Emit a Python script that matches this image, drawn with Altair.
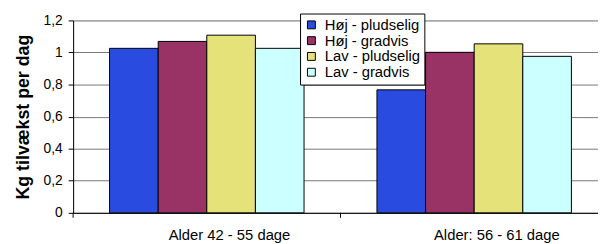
import altair as alt
import pandas as pd

categories = ["Alder 42 - 55 dage", "Alder: 56 - 61 dage"]
series = ["Høj - pludselig", "Høj - gradvis", "Lav - pludselig", "Lav - gradvis"]
values = {
    "Høj - pludselig": [1.026, 0.767],
    "Høj - gradvis": [1.069, 1.001],
    "Lav - pludselig": [1.108, 1.054],
    "Lav - gradvis": [1.026, 0.976],
}
colors = ["#2a4be0", "#993366", "#e6e27a", "#ccffff"]
y_ticks = [0, 0.2, 0.4, 0.6, 0.8, 1.0, 1.2]

rows = []
for s in series:
    for c, v in zip(categories, values[s]):
        rows.append({"cat": c, "serie": s, "val": v})
df = pd.DataFrame(rows)
cat_df = pd.DataFrame({"cat": categories})

FONT = "Liberation Sans"

bars = alt.Chart(df).mark_bar(stroke="black", strokeWidth=1).encode(
    x=alt.X("cat:N", sort=categories,
            scale=alt.Scale(range=[0, 542], paddingInner=0, paddingOuter=0),
            axis=alt.Axis(title=None, labelAngle=0, ticks=False, domain=True,
                          domainColor="black", labelFontSize=15, labelFont=FONT,
                          labelColor="black", labelPadding=15, labelOffset=23)),
    xOffset=alt.XOffset("serie:N", sort=series,
                        scale=alt.Scale(paddingOuter=0.75, paddingInner=0)),
    y=alt.Y("val:Q", scale=alt.Scale(domain=[0, 1.2], nice=False),
            axis=alt.Axis(title="Kg tilvækst per dag", values=y_ticks,
                          labelExpr="replace(format(datum.value, '.1~f'), '.', ',')",
                          grid=True, gridColor="#777777", gridWidth=1,
                          domainColor="black", tickColor="black", tickSize=5,
                          labelFontSize=14, labelFont=FONT, labelColor="black",
                          labelPadding=6, titleFontSize=18, titleFont=FONT,
                          titleFontWeight="bold", titleColor="black",
                          titlePadding=11)),
    color=alt.Color("serie:N", sort=series,
                    scale=alt.Scale(domain=series, range=colors),
                    legend=alt.Legend(title=None, orient="none", legendX=230,
                                      legendY=-7, fillColor="white",
                                      strokeColor="black", padding=4,
                                      symbolType="square", symbolSize=64,
                                      symbolStrokeColor="black",
                                      symbolStrokeWidth=1, symbolOpacity=1,
                                      labelFontSize=15, labelFont=FONT,
                                      labelColor="black", rowPadding=-2,
                                      labelOffset=6, cornerRadius=0)),
)

ticks = alt.Chart(cat_df).mark_rule(color="black", strokeWidth=1).encode(
    x=alt.X("cat:N", sort=categories, bandPosition=0),
    y=alt.value(195),
    y2=alt.value(200),
)

chart = alt.layer(bars, ticks).properties(
    width=532, height=195,
    autosize=alt.AutoSizeParams(type="none"),
    padding={"left": 66, "top": 11, "right": 0, "bottom": 30},
).configure_view(stroke=None).configure(background="white")

chart.save("out.html", embed_options={"renderer": "svg", "actions": False})
